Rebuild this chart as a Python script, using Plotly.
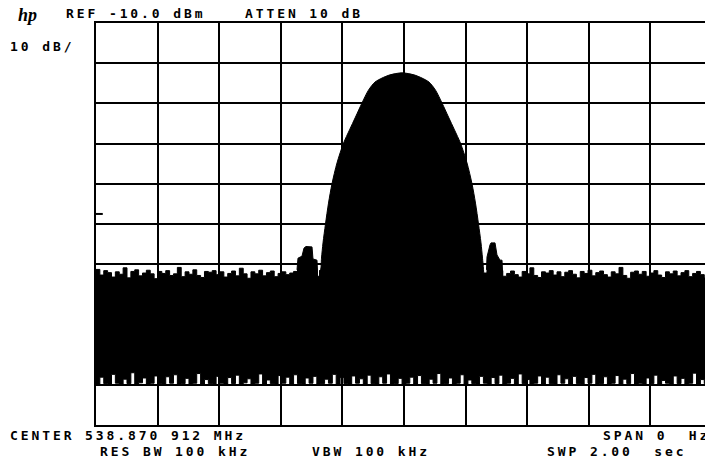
import numpy as np
import plotly.graph_objects as go

# Zero-span sweep: 2.00 s across 10 divisions, REF -10 dBm, 10 dB/div
sweep_s = 2.00
ref_dbm = -10.0
db_per_div = 10
n_div = 10

# Noise band envelope (dBm), uniformly sampled across the sweep
noise_top = [
    -71.3, -72.7, -71.6, -72.1, -73.2, -71.9, -72.5, -70.9, -73.4, -71.8,
    -71.4, -72.9, -72.2, -71.5, -72.4, -73.6, -71.8, -72.3, -71.6, -72.8,
    -72.4, -70.8, -73.1, -71.9, -72.5, -71.4, -72.8, -73.3, -71.8, -72.0,
    -71.6, -72.6, -71.9, -73.2, -72.3, -71.7, -72.9, -71.0, -72.4, -73.5,
    -71.9, -72.4, -71.5, -72.9, -72.1, -71.7, -73.1, -72.3, -71.9, -72.6,
    -72.2, -71.8, -72.6, -72.0, -72.8, -71.7, -72.5, -73.0, -71.9, -72.3,
    -72.0, -72.4, -71.8, -72.7, -72.1, -72.5, -71.9, -72.8, -72.2, -72.4,
    -71.9, -72.6, -72.1, -72.5, -71.8, -72.7, -72.2, -72.4, -72.0, -72.6,
    -72.1, -72.5, -71.9, -72.8, -72.2, -72.4, -71.8, -72.6, -72.1, -72.7,
    -72.0, -72.4, -72.2, -72.6, -71.9, -72.5, -72.3, -72.7, -72.0, -72.4,
    -72.2, -71.8, -72.9, -72.1, -71.6, -73.0, -72.3, -71.7, -72.6, -73.2,
    -71.8, -72.4, -70.9, -72.8, -73.3, -71.9, -72.2, -71.6, -72.7, -71.9,
    -73.1, -72.0, -71.6, -72.5, -73.4, -71.8, -72.3, -71.5, -72.9, -72.1,
    -71.7, -72.6, -73.2, -71.9, -72.4, -70.8, -72.8, -73.5, -72.0, -71.7,
    -72.5, -71.8, -73.0, -72.2, -71.6, -72.7, -73.3, -71.9, -72.4, -71.7,
    -72.9, -72.1, -71.6, -73.1, -72.3, -71.8, -72.6, -73.4, -71.9, -72.2,
]
noise_bottom = [
    -99.8, -98.1, -99.7, -99.9, -97.4, -99.6, -99.8, -98.6, -99.7, -97.0,
    -99.9, -99.5, -98.3, -99.8, -99.6, -97.8, -99.7, -99.9, -98.0, -99.6,
    -97.5, -99.8, -99.7, -98.4, -99.9, -99.6, -97.2, -99.8, -98.7, -99.7,
    -99.9, -97.9, -99.6, -99.8, -98.2, -99.7, -97.6, -99.9, -99.5, -98.5,
    -99.8, -99.6, -97.3, -99.9, -98.8, -99.7, -99.8, -97.7, -99.6, -98.1,
    -99.9, -97.5, -99.7, -99.8, -98.3, -99.6, -97.9, -99.8, -99.7, -98.6,
    -99.6, -97.4, -99.9, -98.2, -99.7, -99.8, -97.8, -99.6, -98.5, -99.9,
    -97.6, -99.7, -99.8, -98.0, -99.6, -97.3, -99.9, -99.7, -98.4, -99.8,
    -99.6, -98.1, -99.9, -97.7, -99.7, -99.8, -98.6, -99.6, -97.2, -99.9,
    -99.7, -98.3, -99.8, -99.6, -97.5, -99.9, -98.8, -99.7, -99.8, -97.9,
    -99.6, -99.9, -98.2, -99.7, -97.6, -99.8, -99.6, -98.4, -99.9, -97.3,
    -99.7, -98.7, -99.8, -99.6, -97.8, -99.9, -98.1, -99.7, -99.8, -97.5,
    -99.6, -98.5, -99.9, -97.9, -99.7, -99.8, -98.2, -99.6, -97.4, -99.9,
    -99.7, -98.0, -99.8, -99.6, -97.7, -99.9, -98.6, -99.7, -97.2, -99.8,
    -99.6, -99.9, -98.3, -99.7, -97.6, -99.8, -98.9, -99.6, -99.9, -97.8,
    -99.7, -98.4, -99.8, -99.6, -97.1, -99.9, -98.7, -99.7, -99.8, -98.2,
]

# Burst main lobe: time (s) and level (dBm)
lobe_t = [
    0.7240, 0.7289, 0.7321, 0.7370, 0.7451, 0.7549, 0.7662, 0.7825, 0.8036, 0.8231,
    0.8425, 0.8636, 0.8847, 0.9058, 0.9286, 0.9545, 0.9935, 1.0325, 1.0584, 1.0812,
    1.1023, 1.1234, 1.1445, 1.1640, 1.1834, 1.2045, 1.2208, 1.2321, 1.2419, 1.2500,
    1.2549, 1.2581,
]
lobe_dbm = [
    -71.7, -71.4, -68.5, -64.7, -60.0, -54.8, -50.0, -44.8, -39.9, -36.6,
    -33.4, -29.9, -26.7, -24.7, -23.7, -22.9, -22.4, -22.9, -23.7, -24.7,
    -26.7, -29.9, -33.4, -36.6, -39.9, -44.8, -50.0, -54.8, -60.0, -64.7,
    -68.5, -71.4,
]

# Side lobes either side of the burst
side_l_t = [0.6526, 0.6558, 0.6688, 0.6753, 0.6818, 0.7013, 0.7045, 0.7175, 0.7192]
side_l_dbm = [-71.4, -68.5, -68.0, -66.0, -65.6, -65.7, -68.7, -69.0, -71.7]
side_r_t = [1.2679, 1.2695, 1.2792, 1.2825, 1.2955, 1.3019, 1.3117, 1.3182, 1.3198]
side_r_dbm = [-71.4, -68.2, -65.2, -64.7, -64.7, -67.7, -69.0, -69.0, -71.7]

display_line_dbm = -57.5

header_labels = ["REF -10.0 dBm", "ATTEN 10 dB", "10 dB/"]
footer_labels = ["CENTER 538.870 912 MHz", "SPAN 0  Hz",
                 "RES BW 100 kHz", "VBW 100 kHz", "SWP 2.00  sec"]

noise_t = np.linspace(0, sweep_s, len(noise_top))
bottom_dbm = ref_dbm - db_per_div * n_div
x_view = sweep_s * (705 - 96) / 616
fill_floor = -90.0

fig = go.Figure()
fig.add_trace(go.Scatter(x=noise_t, y=noise_bottom, mode="lines",
                         line=dict(color="black", width=1, shape="hv"),
                         hoverinfo="skip", showlegend=False))
fig.add_trace(go.Scatter(x=noise_t, y=noise_top, mode="lines", fill="tonexty",
                         fillcolor="black",
                         line=dict(color="black", width=1, shape="hv"),
                         hoverinfo="skip", showlegend=False))


def filled(ts, ds, shape="linear"):
    line = dict(color="black", width=1, shape=shape)
    if shape == "spline":
        line["smoothing"] = 0.8
    fig.add_trace(go.Scatter(x=list(ts) + [ts[-1], ts[0]],
                             y=list(ds) + [fill_floor, fill_floor],
                             mode="lines", fill="toself", fillcolor="black",
                             line=line, hoverinfo="skip", showlegend=False))


filled(lobe_t, lobe_dbm, "spline")
filled(side_l_t, side_l_dbm)
filled(side_r_t, side_r_dbm)

# short display-line marker at the left edge
fig.add_shape(type="line", x0=0, x1=0.022, y0=display_line_dbm, y1=display_line_dbm,
              xref="x", yref="y", line=dict(color="black", width=2))

FONT = "DejaVu Sans Mono"


def spaced(s, gap=2.9):
    return f'<span style="letter-spacing:{gap}px">{s}</span>'


def label(text, px, py):
    fig.add_annotation(text=spaced(text), x=(px - 96) / 609, y=(425 - py) / 402,
                       xref="paper", yref="paper", xanchor="left", yanchor="middle",
                       showarrow=False,
                       font=dict(family=FONT, size=13, color="black", weight="bold"))


label(header_labels[0], 64, 13.5)
label(header_labels[1], 243, 13.5)
label(header_labels[2], 8, 46)
label(footer_labels[0], 8, 435)
label(footer_labels[1], 601, 435)
label(footer_labels[2], 98, 451)
label(footer_labels[3], 310, 451)
label(footer_labels[4], 545, 451)

fig.add_annotation(text="hp", x=(16 - 96) / 609, y=(425 - 15) / 402,
                   xref="paper", yref="paper", xanchor="left", yanchor="middle",
                   showarrow=False,
                   font=dict(family="Liberation Serif", size=18, color="black",
                             style="italic", weight="bold"))

fig.update_xaxes(range=[0, x_view], tick0=0, dtick=sweep_s / n_div,
                 showgrid=True, gridcolor="black", gridwidth=2,
                 showline=True, linecolor="black", linewidth=2, mirror=True,
                 zeroline=False, showticklabels=False, ticks="")
fig.update_yaxes(range=[bottom_dbm, ref_dbm], tick0=ref_dbm, dtick=db_per_div,
                 showgrid=True, gridcolor="black", gridwidth=2,
                 showline=True, linecolor="black", linewidth=2, mirror=False,
                 zeroline=False, showticklabels=False, ticks="")

fig.update_layout(width=705, height=460,
                  margin=dict(l=96, r=0, t=23, b=35),
                  paper_bgcolor="white", plot_bgcolor="white")

fig.write_html("out.html")
